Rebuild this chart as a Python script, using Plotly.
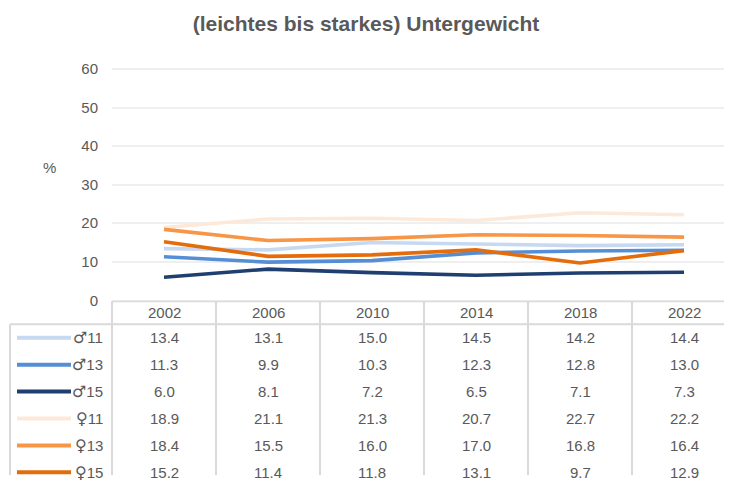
import plotly.graph_objects as go

# ---------------- data ----------------
years = ["2002", "2006", "2010", "2014", "2018", "2022"]
series_sex = ["♂", "♂", "♂", "♀", "♀", "♀"]
series_age = ["11", "13", "15", "11", "13", "15"]
m11 = [13.4, 13.1, 15.0, 14.5, 14.2, 14.4]
m13 = [11.3, 9.9, 10.3, 12.3, 12.8, 13.0]
m15 = [6.0, 8.1, 7.2, 6.5, 7.1, 7.3]
f11 = [18.9, 21.1, 21.3, 20.7, 22.7, 22.2]
f13 = [18.4, 15.5, 16.0, 17.0, 16.8, 16.4]
f15 = [15.2, 11.4, 11.8, 13.1, 9.7, 12.9]
series_values = [m11, m13, m15, f11, f13, f15]
y_ticks = [0, 10, 20, 30, 40, 50, 60]
title_text = "(leichtes bis starkes) Untergewicht"
y_label = "%"

# ---------------- style ----------------
colors = ["#C6D9F1", "#558ED5", "#1F3F70", "#FDE9D9", "#F79646", "#E46C0A"]
TXT = "#595959"
GRID = "#EFEFEF"
TBL = "#D9D9D9"
FONT = "Liberation Sans, Arial, DejaVu Sans, sans-serif"
SYM_FONT = "DejaVu Sans"

PAGE_W, PAGE_H = 732, 483
OFF = 8                      # default body margin of the html page
S_Y = 483 / 491              # observed vertical scale of the photographed page
W, H = PAGE_W - OFF, PAGE_H - OFF
COL_W = 104                  # px per category column
COL0_PX = 112                # page px of left edge of first column
PLOT_TOP = 60                # page px
AXIS0_PX = 300               # page px of y = 0
PX_PER_UNIT = (300 - 68) / 60.0
ROW_H = 27                   # px per table row
ROWS0_PX = 324               # page px of top of first data row
HEADER_TOP = 301
HEADER_H = (ROWS0_PX - HEADER_TOP) / ROW_H


def px2x(px):
    return -0.5 + (px - COL0_PX) / COL_W


def px2row(py):
    return (py - ROWS0_PX) / ROW_H


def fx(px):
    return (px - OFF) / W


def fy(py):
    return 1 - (py / S_Y - OFF) / H


xs = list(range(len(years)))

fig = go.Figure()

for sx, ag, vals, c in zip(series_sex, series_age, series_values, colors):
    fig.add_trace(go.Scatter(
        x=xs, y=vals, mode="lines", name=sx + ag,
        line=dict(color=c, width=3.6), showlegend=False,
        xaxis="x", yaxis="y", hoverinfo="skip"))

# legend keys in the table
for r, c in enumerate(colors):
    fig.add_trace(go.Scatter(
        x=[px2x(17), px2x(71)], y=[r + 0.5, r + 0.5], mode="lines",
        line=dict(color=c, width=4), showlegend=False,
        xaxis="x2", yaxis="y2", hoverinfo="skip"))

shapes = []
right = px2x(PAGE_W + 10)
bottom = px2row(PAGE_H + 20)
shapes.append(dict(type="line", xref="x2", yref="y2", x0=-0.5, x1=right,
                   y0=-HEADER_H, y1=-HEADER_H, line=dict(color=TBL, width=2)))
shapes.append(dict(type="line", xref="x2", yref="y2", x0=px2x(10), x1=right,
                   y0=0, y1=0, line=dict(color=TBL, width=2)))
shapes.append(dict(type="line", xref="x2", yref="y2", x0=px2x(10), x1=px2x(10),
                   y0=0, y1=bottom, line=dict(color=TBL, width=2)))
for k in range(len(years) + 1):
    shapes.append(dict(type="line", xref="x2", yref="y2", x0=k - 0.5, x1=k - 0.5,
                       y0=-HEADER_H, y1=bottom, line=dict(color=TBL, width=2)))

annotations = []
for i, yr in enumerate(years):
    annotations.append(dict(x=i, y=-HEADER_H / 2, xref="x2", yref="y2", text=yr,
                            showarrow=False, font=dict(size=15, color=TXT, family=FONT)))
for r, (sx, ag, vals) in enumerate(zip(series_sex, series_age, series_values)):
    label = (f"<span style='font-family:{SYM_FONT};font-size:16px'>" + sx +
             "</span>" + ag)
    annotations.append(dict(x=px2x(105), y=r + 0.5, xref="x2", yref="y2", text=label,
                            xanchor="right", showarrow=False,
                            font=dict(size=15, color=TXT, family=FONT)))
    for i, v in enumerate(vals):
        annotations.append(dict(x=i, y=r + 0.5, xref="x2", yref="y2", text=f"{v:.1f}",
                                showarrow=False, font=dict(size=15, color=TXT, family=FONT)))
annotations.append(dict(x=fx(49.5), y=fy(167), xref="paper", yref="paper",
                        xanchor="center", yanchor="middle",
                        text=y_label, showarrow=False,
                        font=dict(size=15, color=TXT, family=FONT)))

fig.update_layout(
    width=W, height=H,
    margin=dict(l=0, r=0, t=0, b=0, pad=0),
    paper_bgcolor="white", plot_bgcolor="rgba(0,0,0,0)",
    font=dict(family=FONT, color=TXT, size=15),
    title=dict(text=f"<b>{title_text}</b>", x=fx(366), xanchor="center",
               y=fy(23), yanchor="middle", xref="paper", yref="paper",
               font=dict(size=21, color=TXT, family=FONT)),
    xaxis=dict(domain=[fx(COL0_PX), 1], range=[-0.5, px2x(PAGE_W)], anchor="y",
               showgrid=False, zeroline=False, showline=False,
               showticklabels=False, ticks="", fixedrange=True),
    yaxis=dict(domain=[fy(AXIS0_PX), fy(PLOT_TOP)],
               range=[0, (AXIS0_PX - PLOT_TOP) / PX_PER_UNIT], anchor="x",
               tickvals=y_ticks, ticktext=[str(t) for t in y_ticks],
               showgrid=True, gridcolor=GRID, gridwidth=1.5,
               zeroline=False, showline=False, ticks="",
               ticklabelstandoff=13,
               tickfont=dict(size=15, color=TXT, family=FONT), fixedrange=True),
    xaxis2=dict(domain=[0, 1], range=[px2x(OFF), px2x(PAGE_W)], anchor="y2",
                visible=False, fixedrange=True),
    yaxis2=dict(domain=[0, fy(AXIS0_PX)],
                range=[px2row((OFF + H) * S_Y), px2row(AXIS0_PX)], anchor="x2",
                visible=False, fixedrange=True),
    shapes=shapes,
    annotations=annotations,
)

fig.write_html("out.html")
